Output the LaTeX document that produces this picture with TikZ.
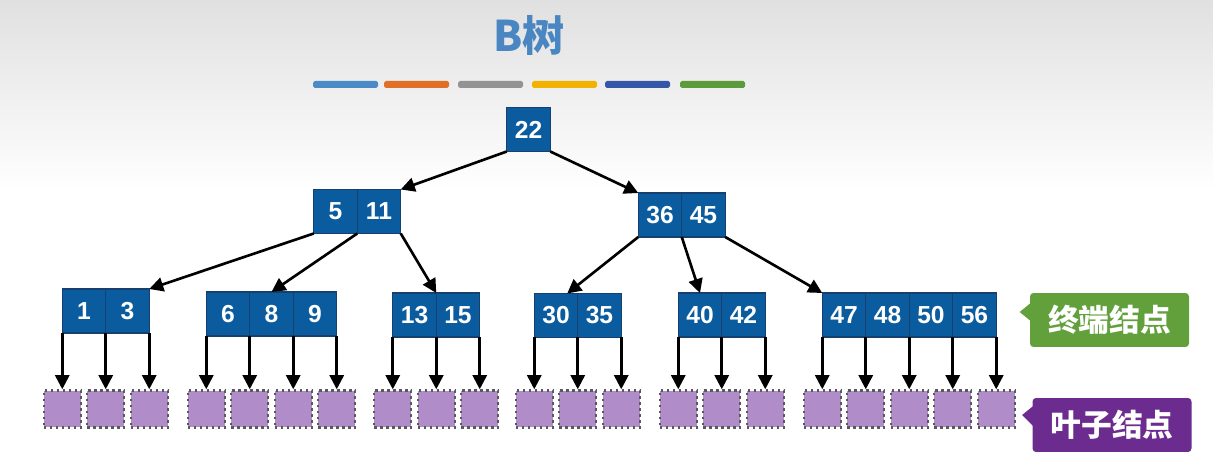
\documentclass[tikz,border=0pt]{standalone}
\usepackage{fontspec}
\setsansfont{Liberation Sans}
\newfontfamily\cjk{Noto Sans CJK SC}
\usetikzlibrary{positioning,arrows.meta,calc}

\definecolor{keyblue}{HTML}{0B5C9E}
\definecolor{keyline}{HTML}{17406F}
\definecolor{leafpurple}{HTML}{B08CC8}
\definecolor{titleblue}{HTML}{4A86C2}
\definecolor{termgreen}{HTML}{62A03C}
\definecolor{leaftag}{HTML}{6C2B8E}
\definecolor{barblue}{HTML}{4A8AC6}
\definecolor{barorange}{HTML}{E06F28}
\definecolor{bargray}{HTML}{939393}
\definecolor{baryellow}{HTML}{F1B300}
\definecolor{barnavy}{HTML}{3557A7}
\definecolor{bargreen}{HTML}{5C9B3A}

\tikzset{
  cell/.style={draw=keyline, fill=keyblue, line width=0.7pt, outer sep=0pt,
    minimum width=0.87cm, minimum height=0.88cm, inner sep=0pt, text=white,
    font=\sffamily\bfseries\fontsize{14}{16}\selectfont},
  leaf/.style={draw=black!65, dotted, line width=1.4pt, fill=leafpurple,
    minimum size=0.74cm, inner sep=0pt},
  ptr/.style={-{Triangle[length=8pt,width=8pt]}, line width=1.5pt},
  tag/.style={rounded corners=2pt, minimum width=3.18cm, minimum height=1.08cm,
    text=white, font=\cjk\bfseries\fontsize{17.5}{20}\selectfont}
}

\begin{document}
\begin{tikzpicture}[x=0.02cm,y=-0.02cm]
  \useasboundingbox (0,0) rectangle (1213,462);
  % background
  \fill[white] (0,0) rectangle (1213,462);
  \shade[top color=black!12, bottom color=white] (0,0) rectangle (1213,190);

  % title and colour bars
  \node[font=\cjk\bfseries\fontsize{24}{26}\selectfont, text=titleblue] (title) at (529,35) {B树};
  \foreach \x/\c in {313/barblue,384/barorange,458/bargray,532/baryellow,605/barnavy,680/bargreen}
    \fill[\c, rounded corners=1pt] (\x,81) rectangle ++(65,7);

  % keys
  \node[cell] (r1) at (528.5,129.5) {22};
  \node[cell] (a1) at (335.5,211.5) {5};
  \node[cell,right=0pt of a1] (a2) {11};
  \node[cell] (b1) at (660,215) {36};
  \node[cell,right=0pt of b1] (b2) {45};
  \node[cell] (c1) at (84,311) {1};
  \node[cell,right=0pt of c1] (c2) {3};
  \node[cell] (d1) at (228,314) {6};
  \node[cell,right=0pt of d1] (d2) {8};
  \node[cell,right=0pt of d2] (d3) {9};
  \node[cell] (e1) at (414.5,315) {13};
  \node[cell,right=0pt of e1] (e2) {15};
  \node[cell] (f1) at (556,315.5) {30};
  \node[cell,right=0pt of f1] (f2) {35};
  \node[cell] (g1) at (700,315) {40};
  \node[cell,right=0pt of g1] (g2) {42};
  \node[cell] (h1) at (844,315) {47};
  \node[cell,right=0pt of h1] (h2) {48};
  \node[cell,right=0pt of h2] (h3) {50};
  \node[cell,right=0pt of h3] (h4) {56};

  % child pointers
  \draw[ptr] (r1.south west) -- (a2.north east);
  \draw[ptr] (r1.south east) -- (b1.north west);
  \draw[ptr] (a1.south west) -- (c2.north east);
  \draw[ptr] (a1.south east) -- (d2.north);
  \draw[ptr] (a2.south east) -- (e1.north east);
  \draw[ptr] (b1.south west) -- (f1.63);
  \draw[ptr] (b1.south east) -- (g1.north);
  \draw[ptr] (b2.south east) -- (h1.north west);

  % leaves
  \foreach \g/\n in {c/2,d/3,e/2,f/2,g/2,h/4} {
    \node[leaf] (\g0l) at (\g1.south west |- 0,409) {};
    \draw[ptr] (\g1.south west) -- (\g0l);
    \foreach \k in {1,...,\n} {
      \node[leaf] (\g\k l) at (\g\k.south east |- 0,409) {};
      \draw[ptr] (\g\k.south east) -- (\g\k l);
    }
  }

  % tags
  \node[tag, fill=termgreen] (term) at (1109.5,320) {终端结点};
  \fill[termgreen] ($(term.west)+(1,-17)$) -- ($(term.west)+(-10,-8)$) -- ($(term.west)+(1,1)$) -- cycle;
  \node[tag, fill=leaftag] (leaftext) at (1112,425) {叶子结点};
  \fill[leaftag] ($(leaftext.west)+(1,-19)$) -- ($(leaftext.west)+(-10,-10)$) -- ($(leaftext.west)+(1,1)$) -- cycle;
\end{tikzpicture}
\end{document}
